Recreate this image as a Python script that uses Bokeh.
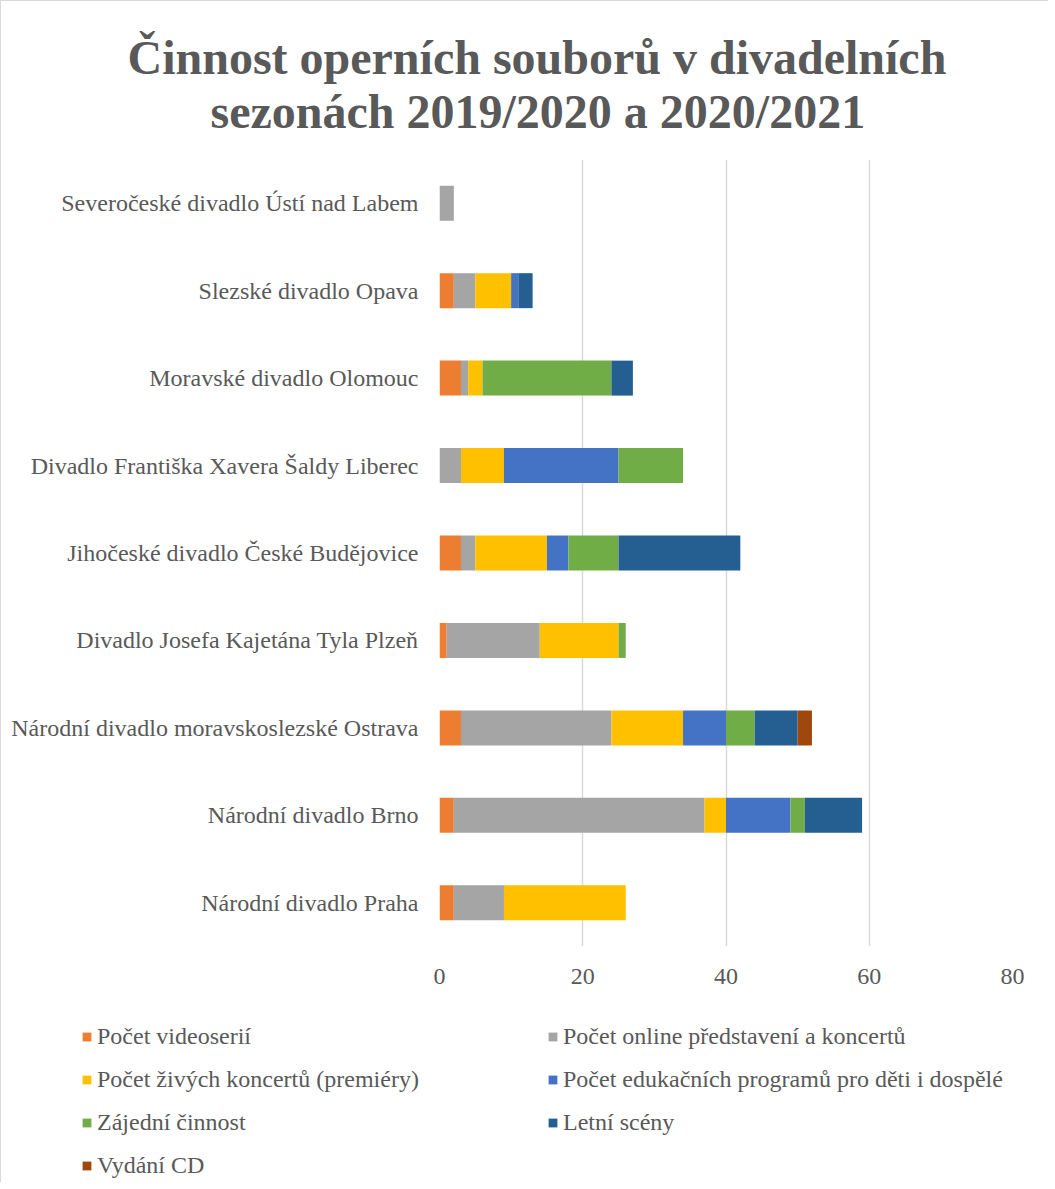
from bokeh.plotting import figure
from bokeh.layouts import column
from bokeh.models import Legend, LegendItem, Title, ColumnDataSource, FixedTicker, Range1d, FactorRange
from bokeh.embed import file_html
from bokeh.resources import INLINE

categories = [
    "Severočeské divadlo Ústí nad Labem",
    "Slezské divadlo Opava",
    "Moravské divadlo Olomouc",
    "Divadlo Františka Xavera Šaldy Liberec",
    "Jihočeské divadlo České Budějovice",
    "Divadlo Josefa Kajetána Tyla Plzeň",
    "Národní divadlo moravskoslezské Ostrava",
    "Národní divadlo Brno",
    "Národní divadlo Praha",
]

videoserie = [0, 2, 3, 0, 3, 1, 3, 2, 2]
online = [2, 3, 1, 3, 2, 13, 21, 35, 7]
zive = [0, 5, 2, 6, 10, 11, 10, 3, 17]
edukacni = [0, 1, 0, 16, 3, 0, 6, 9, 0]
zajezdni = [0, 0, 18, 9, 7, 1, 4, 2, 0]
letni = [0, 2, 3, 0, 17, 0, 6, 8, 0]
cd = [0, 0, 0, 0, 0, 0, 2, 0, 0]

series_names = [
    "Počet videoserií",
    "Počet online představení a koncertů",
    "Počet živých koncertů (premiéry)",
    "Počet edukačních programů pro děti i dospělé",
    "Zájední činnost",
    "Letní scény",
    "Vydání CD",
]
colors = ["#ED7D31", "#A5A5A5", "#FFC000", "#4472C4", "#70AD47", "#255E91", "#9E480E"]
x_ticks = [0, 20, 40, 60, 80]

keys = ["s0", "s1", "s2", "s3", "s4", "s5", "s6"]
source = ColumnDataSource(data=dict(
    cat=categories, s0=videoserie, s1=online, s2=zive, s3=edukacni,
    s4=zajezdni, s5=letni, s6=cd,
))

FONT = "Liberation Serif"
GREY = "#595959"

p = figure(
    width=1047, height=1010,
    y_range=FactorRange(factors=categories[::-1]),
    x_range=Range1d(0, 80),
    output_backend="svg", toolbar_location=None,
    min_border_left=438, min_border_right=36,
    min_border_top=158, min_border_bottom=65,
)
p.frame_align = False
p.title.visible = False
p.outline_line_color = None

renderers = p.hbar_stack(keys, y="cat", height=0.4, fill_color=colors,
                         line_color=None, source=source)

p.xaxis.ticker = FixedTicker(ticks=x_ticks)
p.xaxis.axis_line_color = None
p.xaxis.major_tick_line_color = None
p.xaxis.minor_tick_line_color = None
p.xaxis.major_tick_out = 0
p.xaxis.major_tick_in = 0
p.xaxis.major_label_text_font = FONT
p.xaxis.major_label_text_font_size = "24px"
p.xaxis.major_label_text_color = GREY
p.xaxis.major_label_standoff = 22

p.yaxis.axis_line_color = None
p.yaxis.major_tick_line_color = None
p.yaxis.minor_tick_line_color = None
p.yaxis.major_tick_out = 0
p.yaxis.major_tick_in = 0
p.yaxis.major_label_text_font = FONT
p.yaxis.major_label_text_font_size = "24px"
p.yaxis.major_label_text_color = GREY
p.yaxis.major_label_standoff = 21

p.ygrid.grid_line_color = None
p.xgrid.grid_line_color = "#d9d9d9"
p.xgrid.grid_line_width = 1.5

t2 = Title(text="sezonách 2019/2020 a 2020/2021", align="left", offset=-229, standoff=43,
           text_font_size="48px", text_font=FONT, text_color=GREY, text_font_style="bold")
t1 = Title(text="Činnost operních souborů v divadelních", align="left", offset=-312, standoff=-44,
           text_font_size="48px", text_font=FONT, text_color=GREY, text_font_style="bold")
p.add_layout(t2, "above")
p.add_layout(t1, "above")

# Legend panel: a second figure whose frame fills it; hidden proxies carry the legend glyphs
pl = figure(
    width=1047, height=171, x_range=Range1d(0, 1),
    y_range=FactorRange(factors=categories[::-1]),
    output_backend="svg", toolbar_location=None,
    min_border=0, min_border_left=0, min_border_right=0,
    min_border_top=0, min_border_bottom=0,
)
pl.frame_align = False
pl.title.visible = False
pl.axis.visible = False
pl.grid.visible = False
pl.outline_line_color = None

proxies = [pl.hbar(y="cat", right=k, height=0.4, fill_color=c, line_color=None,
                   source=source, visible=False) for k, c in zip(keys, colors)]

common = dict(
    orientation="vertical", glyph_width=11, glyph_height=11, label_standoff=5,
    spacing=16, label_height=27, padding=0, margin=0,
    border_line_color=None, background_fill_alpha=0,
    inactive_fill_alpha=0,
    label_text_font=FONT, label_text_font_size="24px", label_text_color=GREY,
)
left_idx = [0, 2, 4, 6]
right_idx = [1, 3, 5]
legend_a = Legend(items=[LegendItem(label=series_names[i], renderers=[proxies[i]]) for i in left_idx],
                  location=(80, 3), **common)
legend_b = Legend(items=[LegendItem(label=series_names[i], renderers=[proxies[i]]) for i in right_idx],
                  location=(546, 46), **common)
pl.add_layout(legend_a, "center")
pl.add_layout(legend_b, "center")

layout = column(p, pl, spacing=0)
layout.styles = {"border-left": "1px solid #d9d9d9", "border-top": "1px solid #d9d9d9"}

open("out.html", "w").write(file_html(layout, INLINE))
